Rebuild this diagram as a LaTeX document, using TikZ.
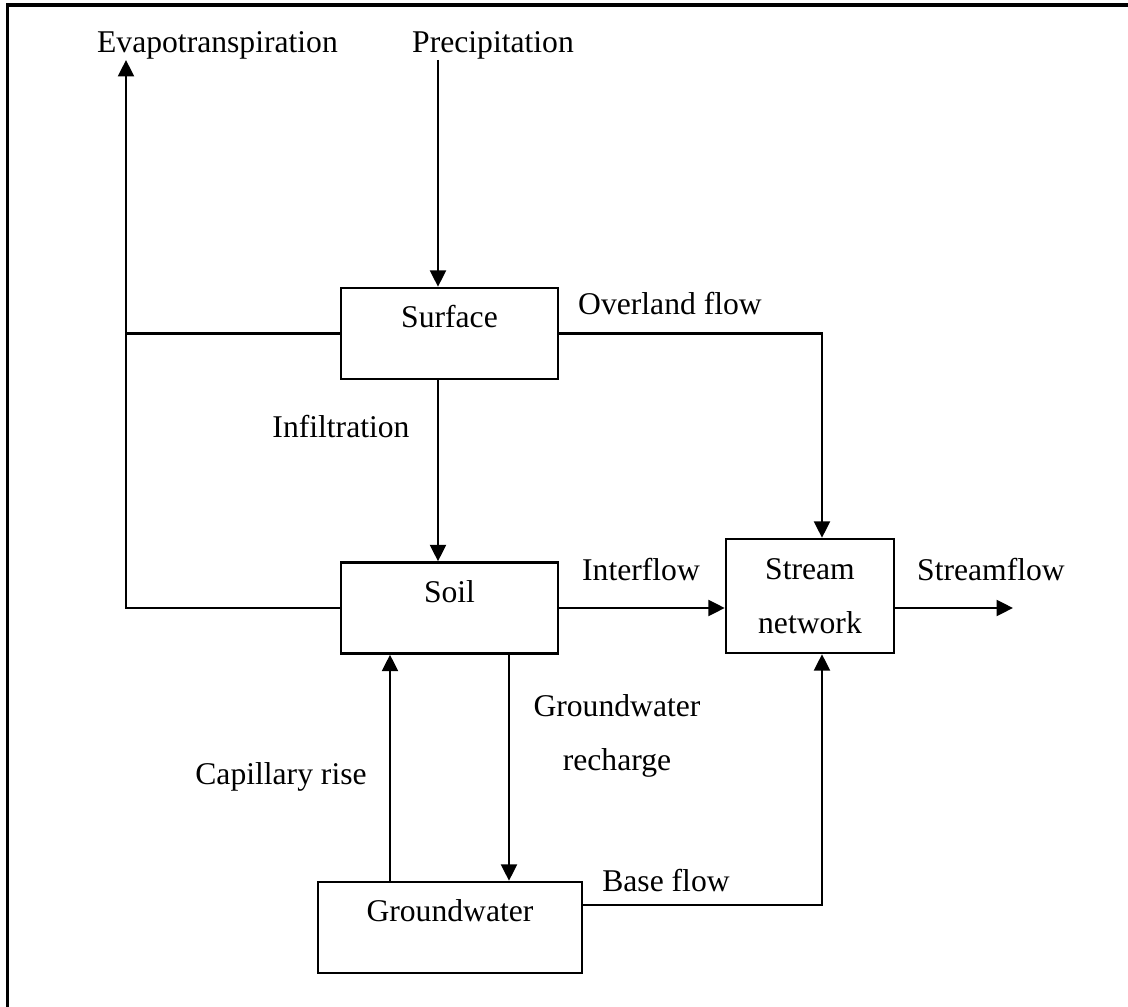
\documentclass[tikz,border=0pt]{standalone}
\usepackage{fontspec}
\setmainfont{Liberation Serif}
\usetikzlibrary{arrows.meta, positioning, calc}

\begin{document}
\begin{tikzpicture}[
    every node/.style={font=\fontsize{18pt}{30.5pt}\selectfont}, % Times-like text
    frame/.style={line width=1.8pt, black}, % outer frame
    link/.style={line width=1.4pt, black}, % plain connector
    flow/.style={link, -{Triangle[length=0.33cm, width=0.32cm]}}, % connector with arrow
    store/.style={draw, line width=1.4pt, inner sep=0pt, text height=0.8cm, text depth=1.02cm}, % storage box
    lbl/.style={anchor=base, inner sep=0pt} % flux label
]
    % 1. canvas and frame (cut at right and bottom)
    \useasboundingbox (0,0) rectangle (22.56,20.14);
    \draw[frame] (22.8,20.04) -- (0.15,20.04) -- (0.15,-0.2);

    % 2. storages
    \node[store, minimum width=4.34cm] (surf) at (8.99,13.47) {Surface};
    \node[store, minimum width=4.34cm] (soil) at (8.99,7.98) {Soil};
    \node[store, minimum width=5.28cm] (gw) at (9.0,1.59) {Groundwater};
    \node[draw, line width=1.4pt, align=center, minimum width=3.36cm, minimum height=2.28cm] (strm) at (16.2,8.22) {Stream\\network};

    % 3. flux labels
    \node[lbl] (evap) at (4.35,19.08) {Evapotranspiration};
    \node[lbl] (prec) at (9.86,19.08) {Precipitation};
    \node[lbl] (over) at (13.4,13.84) {Overland flow};
    \node[lbl] (infl) at (6.82,11.38) {Infiltration};
    \node[lbl] (intf) at (12.82,8.52) {Interflow};
    \node[lbl] (sflw) at (19.82,8.52) {Streamflow};
    \node[align=center] (rech) at (12.34,5.42) {Groundwater\\recharge};
    \node[lbl] (capr) at (5.62,4.44) {Capillary rise};
    \node[lbl] (bflw) at (13.32,2.3) {Base flow};

    % 4. connectors
    \coordinate (evtop) at (2.52,18.94); % tip under Evapotranspiration
    \coordinate (prtop) at (8.76,18.94); % start under Precipitation
    \coordinate (sfend) at (20.26,7.98); % tip after Streamflow
    \draw[flow] (prtop) -- (prtop |- surf.north);
    \draw[link] (surf.west) -- (surf.west -| evtop);
    \draw[flow] (soil.west) -| (evtop);
    \draw[flow] (surf.east) -| ([xshift=0.24cm]strm.north);
    \draw[flow] (prtop |- surf.south) -- (prtop |- soil.north);
    \draw[flow] (soil.east) -- (soil.east -| strm.west);
    \draw[flow] (soil.east -| strm.east) -- (sfend);
    \draw[flow] ([xshift=1.19cm]soil.south) -- ([xshift=1.19cm]soil.south |- gw.north);
    \draw[flow] ([xshift=-1.19cm]soil.south |- gw.north) -- ([xshift=-1.19cm]soil.south);
    \draw[flow] ([yshift=0.45cm]gw.east) -| ([xshift=0.24cm]strm.south);

\end{tikzpicture}
\end{document}
